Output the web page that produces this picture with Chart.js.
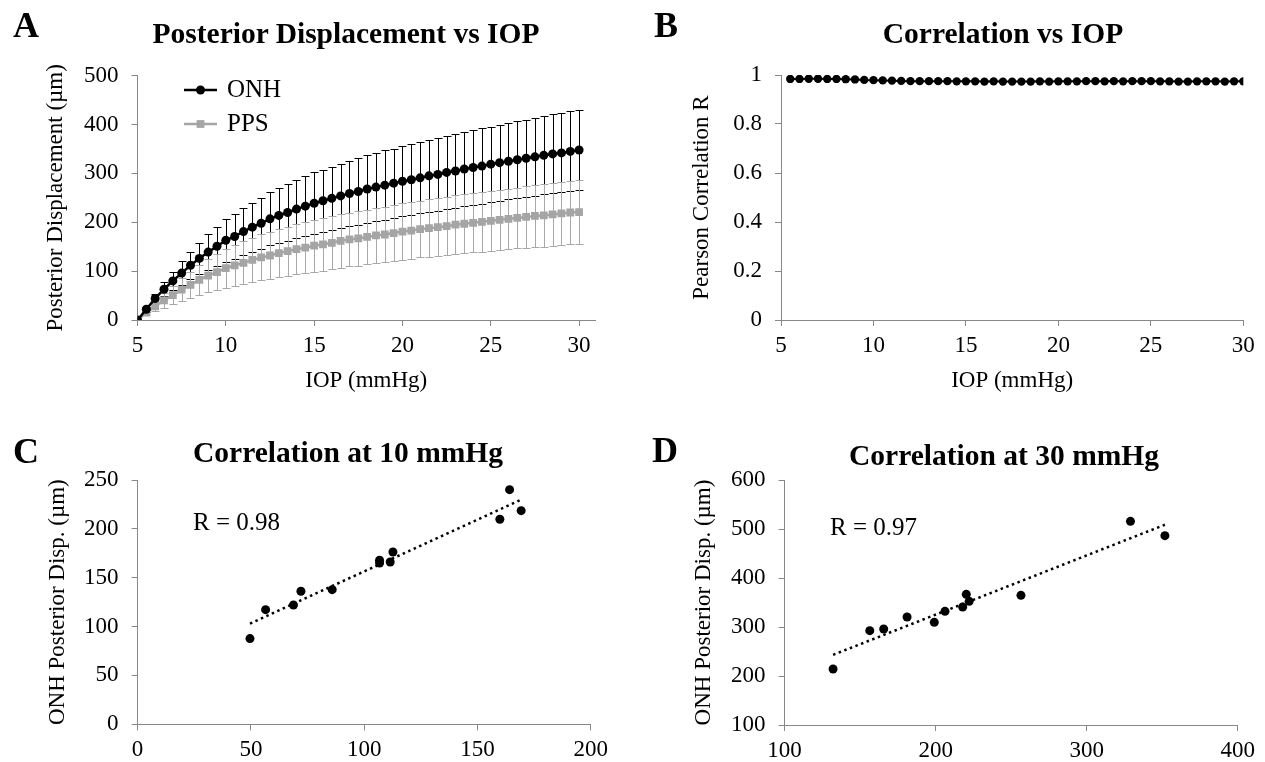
<!DOCTYPE html>
<html>
<head>
<meta charset="utf-8">
<script src="https://cdn.jsdelivr.net/npm/chart.js@4.4.1/dist/chart.umd.min.js"></script>
<style>
  body { margin: 0; background: #fff; }
  #page { position: relative; width: 1265px; height: 762px; overflow: hidden; font-family: 'Liberation Serif', 'Times New Roman', serif; color: #000; }
  canvas { position: absolute; }
  .lbl { position: absolute; transform: translate(-50%, -50%); white-space: nowrap; }
  .letter { font-weight: bold; font-size: 36px; }
  .title { font-weight: bold; font-size: 29.5px; }
  .rtext { position: absolute; transform: translateY(-50%); font-size: 25px; white-space: nowrap; }
</style>
</head>
<body>
<div id="page">
  <canvas id="chartA" width="632" height="395" style="left:0;top:0"></canvas>
  <canvas id="chartB" width="633" height="395" style="left:632px;top:0"></canvas>
  <canvas id="chartC" width="632" height="368" style="left:0;top:394px"></canvas>
  <canvas id="chartD" width="633" height="368" style="left:632px;top:394px"></canvas>

  <div class="lbl letter" style="left:26px;top:25px">A</div>
  <div class="lbl letter" style="left:666px;top:25px">B</div>
  <div class="lbl letter" style="left:26px;top:451px">C</div>
  <div class="lbl letter" style="left:665px;top:450px">D</div>

  <div class="lbl title" style="left:346px;top:33px">Posterior Displacement vs IOP</div>
  <div class="lbl title" style="left:1003px;top:33px">Correlation vs IOP</div>
  <div class="lbl title" style="left:348px;top:452px">Correlation at 10 mmHg</div>
  <div class="lbl title" style="left:1004px;top:455px">Correlation at 30 mmHg</div>

  <div class="rtext" style="left:193px;top:522px">R = 0.98</div>
  <div class="rtext" style="left:830px;top:527px">R = 0.97</div>
</div>
<script>
// IOP steps (mmHg)
const iop = [5, 5.5, 6, 6.5, 7, 7.5, 8, 8.5, 9, 9.5, 10, 10.5, 11, 11.5, 12, 12.5, 13, 13.5, 14, 14.5,
  15, 15.5, 16, 16.5, 17, 17.5, 18, 18.5, 19, 19.5, 20, 20.5, 21, 21.5, 22, 22.5, 23, 23.5, 24, 24.5,
  25, 25.5, 26, 26.5, 27, 27.5, 28, 28.5, 29, 29.5, 30];

// panel A: mean posterior displacement (um) and SD
const onhDisp = [0, 22, 44, 63, 80, 96, 112, 126, 139, 151, 163, 171, 181, 190, 198, 207, 214, 220, 227, 233,
  239, 244, 249, 254, 259, 263, 268, 272, 276, 280, 284, 287, 291, 295, 298, 302, 305, 309, 312, 315,
  319, 322, 325, 328, 331, 334, 337, 340, 342, 345, 348];
const onhSD = [0, 5, 10, 14, 19, 24, 28, 32, 36, 40, 44, 46, 48, 50, 52, 54, 56, 58, 60, 61,
  63, 64, 65, 66, 67, 68, 69, 70, 71, 71, 72, 73, 73, 74, 74, 75, 75, 76, 76, 77,
  77, 78, 78, 79, 79, 80, 80, 81, 81, 82, 82];
const ppsDisp = [0, 15, 28, 40, 51, 62, 72, 82, 91, 98, 106, 112, 117, 123, 128, 132, 137, 141, 145, 148,
  152, 155, 158, 162, 165, 167, 170, 173, 175, 178, 181, 183, 186, 188, 190, 192, 195, 197, 199, 201,
  203, 205, 207, 209, 211, 213, 214, 216, 218, 220, 221];
const ppsSD = [0, 5, 10, 15, 19, 23, 27, 31, 34, 37, 40, 42, 44, 45, 47, 48, 49, 50, 51, 52,
  53, 54, 54, 55, 55, 56, 56, 57, 57, 57, 58, 58, 58, 59, 59, 59, 60, 60, 60, 61,
  61, 61, 62, 62, 63, 63, 64, 64, 65, 65, 66];

// panel B: Pearson R from 5.5 to 30 mmHg
const corrIop = iop.slice(1);
const corrR = [0.984, 0.984, 0.985, 0.985, 0.984, 0.984, 0.983, 0.982, 0.980, 0.979,
  0.978, 0.977, 0.976, 0.975, 0.975, 0.975, 0.975, 0.975, 0.974, 0.974,
  0.974, 0.973, 0.974, 0.973, 0.973, 0.973, 0.973, 0.974, 0.973, 0.974,
  0.974, 0.974, 0.975, 0.975, 0.974, 0.975, 0.974, 0.975, 0.975, 0.975,
  0.974, 0.974, 0.973, 0.973, 0.974, 0.974, 0.974, 0.973, 0.974, 0.974];

// panel C: 10 mmHg, PPS vs ONH displacement per eye
const pps10 = [49.6, 56.5, 68.8, 72.1, 85.9, 106.8, 106.8, 111.5, 112.7, 159.9, 164.2, 169.3];
const onh10 = [87.7, 117.3, 122.1, 136.1, 137.8, 168.0, 165.0, 166.1, 176.3, 209.8, 240.1, 218.6];

// panel D: 30 mmHg
const pps30 = [132.1, 156.4, 165.6, 181.1, 199.1, 206.2, 217.9, 220.3, 222.2, 256.5, 329.0, 351.8];
const onh30 = [214.3, 292.5, 295.9, 320.4, 309.5, 332.0, 340.8, 366.7, 352.4, 364.6, 515.6, 486.4];

// tick labels
const iopTicks = [5, 10, 15, 20, 25, 30];
const dispTicks = [0, 100, 200, 300, 400, 500];
const corrTicks = [0, 0.2, 0.4, 0.6, 0.8, 1];
const c10xTicks = [0, 50, 100, 150, 200];
const c10yTicks = [0, 50, 100, 150, 200, 250];
const c30xTicks = [100, 200, 300, 400];
const c30yTicks = [100, 200, 300, 400, 500, 600];

const AXIS = '#888888';
const FONT = "'Liberation Serif', 'Times New Roman', serif";

const toPoints = (xs, ys) => xs.map((x, i) => ({ x, y: ys[i] }));

// least squares trend line over the x range of the data
function trendLine(xs, ys) {
  const n = xs.length;
  const mx = xs.reduce((a, b) => a + b, 0) / n;
  const my = ys.reduce((a, b) => a + b, 0) / n;
  let sxy = 0, sxx = 0;
  xs.forEach((x, i) => { sxy += (x - mx) * (ys[i] - my); sxx += (x - mx) * (x - mx); });
  const b = sxy / sxx, a = my - b * mx;
  const lo = Math.min(...xs), hi = Math.max(...xs);
  return [{ x: lo, y: a + b * lo }, { x: hi, y: a + b * hi }];
}

function scale(o) {
  return {
    type: 'linear',
    min: o.min,
    max: o.max,
    afterBuildTicks: axis => { axis.ticks = o.ticks.map(v => ({ value: v })); },
    afterFit: s => { if (o.width != null) s.width = o.width; if (o.height != null) s.height = o.height; },
    border: { display: true, color: AXIS, width: 1 },
    grid: { drawOnChartArea: false, drawTicks: true, tickLength: 6, color: AXIS },
    ticks: {
      color: '#000', font: { family: FONT, size: 23 }, padding: o.pad,
      autoSkip: false, maxRotation: 0, callback: v => String(v)
    },
    title: {
      display: !!o.title, text: o.title, color: '#000',
      font: { family: FONT, size: 23 },
      padding: { top: o.titlePad || 0, bottom: 0 }
    }
  };
}

// error bars drawn through the chart scales
const errorBars = {
  id: 'errorBars',
  beforeDatasetsDraw(chart) {
    const { ctx, scales: { x, y } } = chart;
    chart.data.datasets.forEach(ds => {
      if (!ds.errorBars) return;
      ctx.save();
      ctx.strokeStyle = ds.errorColor;
      ctx.lineWidth = 1;
      ds.data.forEach((p, i) => {
        const e = ds.errorBars[i];
        if (!e) return;
        const px = Math.round(x.getPixelForValue(p.x)) + 0.5;
        const top = Math.round(y.getPixelForValue(p.y + e)) + 0.5;
        const bot = Math.round(y.getPixelForValue(p.y - e)) + 0.5;
        ctx.beginPath();
        ctx.moveTo(px, top); ctx.lineTo(px, bot);
        ctx.moveTo(px - 4, top); ctx.lineTo(px + 4, top);
        ctx.moveTo(px - 4, bot); ctx.lineTo(px + 4, bot);
        ctx.stroke();
      });
      ctx.restore();
    });
  }
};

// legend inside the plot area like the Excel original
const insideLegend = {
  id: 'insideLegend',
  afterDraw(chart, args, opts) {
    if (!opts.rows) return;
    const ctx = chart.ctx;
    chart.data.datasets.forEach((ds, i) => {
      const yy = opts.rows[i];
      if (yy == null) return;
      ctx.save();
      ctx.strokeStyle = ds.borderColor;
      ctx.lineWidth = ds.borderWidth;
      ctx.beginPath();
      ctx.moveTo(opts.x0, yy); ctx.lineTo(opts.x1, yy);
      ctx.stroke();
      const xm = (opts.x0 + opts.x1) / 2;
      ctx.fillStyle = ds.pointBackgroundColor;
      if (ds.pointStyle === 'rect') {
        const s = ds.pointRadius * Math.SQRT1_2;
        ctx.fillRect(xm - s, yy - s, 2 * s, 2 * s);
      } else {
        ctx.beginPath(); ctx.arc(xm, yy, ds.pointRadius, 0, Math.PI * 2); ctx.fill();
      }
      ctx.fillStyle = '#000';
      ctx.font = '25px ' + FONT;
      ctx.textBaseline = 'middle';
      ctx.fillText(ds.label, opts.textX, yy);
      ctx.restore();
    });
  }
};

const baseOpts = (pad, xs, ys, extra) => ({
  responsive: false,
  animation: false,
  layout: { padding: pad },
  plugins: Object.assign({ legend: { display: false }, tooltip: { enabled: false } }, extra || {}),
  scales: { x: xs, y: ys }
});

// A
new Chart(document.getElementById('chartA'), {
  type: 'line',
  data: {
    datasets: [
      {
        label: 'ONH', data: toPoints(iop, onhDisp), errorBars: onhSD, errorColor: '#000',
        borderColor: '#000', borderWidth: 2.5, pointStyle: 'circle', pointRadius: 4.5,
        pointBorderWidth: 0, pointBackgroundColor: '#000'
      },
      {
        label: 'PPS', data: toPoints(iop, ppsDisp), errorBars: ppsSD, errorColor: '#a8a8a8',
        borderColor: '#a5a5a5', borderWidth: 2.5, pointStyle: 'rect', pointRadius: 5.5,
        pointBorderWidth: 0, pointBackgroundColor: '#a5a5a5'
      }
    ]
  },
  options: baseOpts({ left: 0, top: 75.7, right: 37, bottom: 0 },
    scale({ min: 5, max: 30.9, ticks: iopTicks, height: 75, pad: 6, title: 'IOP (mmHg)' }),
    scale({ min: 0, max: 500, ticks: dispTicks, width: 137.5, pad: 13, title: 'Posterior Displacement (\u00b5m)', titlePad: 42 }),
    { insideLegend: { x0: 184, x1: 217, textX: 227, rows: [90, 124] } }),
  plugins: [errorBars, insideLegend]
});

// B
new Chart(document.getElementById('chartB'), {
  type: 'line',
  data: {
    datasets: [{
      label: 'R', data: toPoints(corrIop, corrR),
      borderColor: '#000', borderWidth: 2, pointRadius: 4.2, pointBorderWidth: 0, pointBackgroundColor: '#000'
    }]
  },
  options: baseOpts({ left: 0, top: 75, right: 21.7, bottom: 0 },
    scale({ min: 5, max: 30, ticks: iopTicks, height: 75, pad: 6, title: 'IOP (mmHg)' }),
    scale({ min: 0, max: 1, ticks: corrTicks, width: 149, pad: 13, title: 'Pearson Correlation R', titlePad: 56 }))
});

// C and D scatter with dotted trend line
function scatterPanel(id, xs, ys, xScale, yScale, pad) {
  new Chart(document.getElementById(id), {
    type: 'scatter',
    data: {
      datasets: [
        {
          label: 'eyes', data: toPoints(xs, ys), pointRadius: 4.5, pointBorderWidth: 0,
          pointBackgroundColor: '#000'
        },
        {
          label: 'trend', data: trendLine(xs, ys), showLine: true, pointRadius: 0,
          borderColor: '#000', borderWidth: 2.5, borderDash: [2.5, 3.5]
        }
      ]
    },
    options: baseOpts(pad, xScale, yScale)
  });
}

scatterPanel('chartC', pps10, onh10,
  scale({ min: 0, max: 200, ticks: c10xTicks, height: 37.7, pad: 6 }),
  scale({ min: 0, max: 250, ticks: c10yTicks, width: 137.6, pad: 13, title: 'ONH Posterior Disp. (\u00b5m)', titlePad: 44 }),
  { left: 0, top: 86, right: 41.3, bottom: 0 });

scatterPanel('chartD', pps30, onh30,
  scale({ min: 100, max: 400, ticks: c30xTicks, height: 37, pad: 6 }),
  scale({ min: 100, max: 600, ticks: c30yTicks, width: 152.6, pad: 13, title: 'ONH Posterior Disp. (\u00b5m)', titlePad: 58 }),
  { left: 0, top: 86, right: 27.3, bottom: 0 });
</script>
</body>
</html>
